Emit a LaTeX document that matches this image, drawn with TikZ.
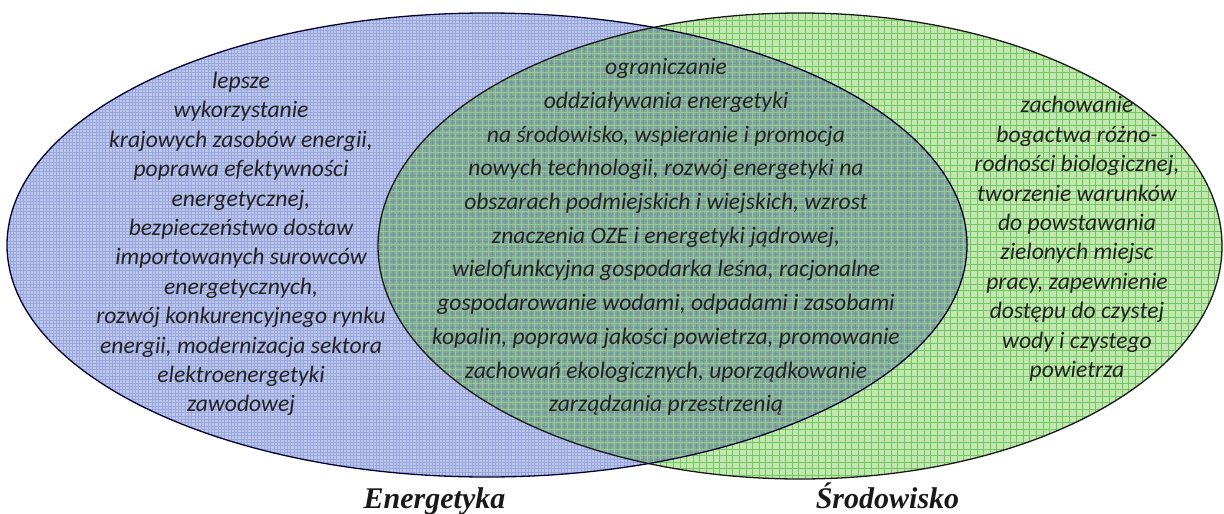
\documentclass[tikz,border=0pt]{standalone}
\usepackage{fontspec}
\setmainfont{Carlito}
\newfontfamily\tnr{Liberation Serif}
\definecolor{bluebase}{HTML}{BDC6EB}
\definecolor{blueline}{HTML}{9AA7DC}
\definecolor{greenbase}{HTML}{C2E8AF}
\definecolor{greenline}{HTML}{72C663}
\definecolor{midbase}{HTML}{86AB98}
\definecolor{midline}{HTML}{5F7FA8}
\definecolor{txt}{HTML}{222222}
\tikzset{
  bodytext/.style={align=center, text=txt, font=\itshape\fontsize{23.6}{29.4}\selectfont, inner sep=0pt},
  midtext/.style={align=center, text=txt, font=\itshape\fontsize{23.6}{33.7}\selectfont, inner sep=0pt},
  setlabel/.style={text=black!90, font=\tnr\bfseries\itshape\fontsize{30}{32}\selectfont, inner sep=0pt, anchor=base},
  outline/.style={line width=1.3pt}
}
\begin{document}
\begin{tikzpicture}[x=1pt,y=-1pt]
\useasboundingbox (0,0) rectangle (1224,514);
\def\leftell{(487,245) ellipse [x radius=480pt, y radius=232pt]}
\def\rightell{(800,246) ellipse [x radius=422pt, y radius=233pt]}
% green set
\fill[greenbase] \rightell;
\begin{scope}
  \clip \rightell;
  \draw[greenline, line width=0.5pt, step=6.6pt] (0,0) grid (1224,514);
\end{scope}
% blue set
\fill[bluebase] \leftell;
\begin{scope}
  \clip \leftell;
  \draw[blueline, line width=0.3pt, step=3.3pt] (0,0) grid (1224,514);
\end{scope}
% intersection
\begin{scope}
  \clip \rightell;
  \clip \leftell;
  \fill[midbase] (0,0) rectangle (1224,514);
  \draw[midline, line width=0.35pt, step=3.3pt, opacity=0.5] (0,0) grid (1224,514);
  \draw[greenline!70!white, line width=0.5pt, step=6.6pt, opacity=0.8] (0,0) grid (1224,514);
\end{scope}
% outlines
\draw[outline, black!90] \rightell;
\draw[outline, black!80!blue] \leftell;
% texts
\node[bodytext] (lefttext) at (241,244) {lepsze\\wykorzystanie\\krajowych zasobów energii,\\poprawa efektywności\\energetycznej,\\bezpieczeństwo dostaw\\importowanych surowców\\energetycznych,\\rozwój konkurencyjnego rynku\\energii, modernizacja sektora\\elektroenergetyki\\zawodowej};
\node[midtext] (midtext) at (666,237) {ograniczanie\\oddziaływania energetyki\\na środowisko, wspieranie i promocja\\nowych technologii, rozwój energetyki na\\obszarach podmiejskich i wiejskich, wzrost\\znaczenia OZE i energetyki jądrowej,\\wielofunkcyjna gospodarka leśna, racjonalne\\gospodarowanie wodami, odpadami i zasobami\\kopalin, poprawa jakości powietrza, promowanie\\zachowań ekologicznych, uporządkowanie\\zarządzania przestrzenią};
\node[bodytext] (righttext) at (1077,239) {zachowanie\\bogactwa różno-\\rodności biologicznej,\\tworzenie warunków\\do powstawania\\zielonych miejsc\\pracy, zapewnienie\\dostępu do czystej\\wody i czystego\\powietrza};
\node[setlabel] (energetyka) at (434.5,508) {Energetyka};
\node[setlabel] (srodowisko) at (887.5,508) {Środowisko};
\end{tikzpicture}
\end{document}
